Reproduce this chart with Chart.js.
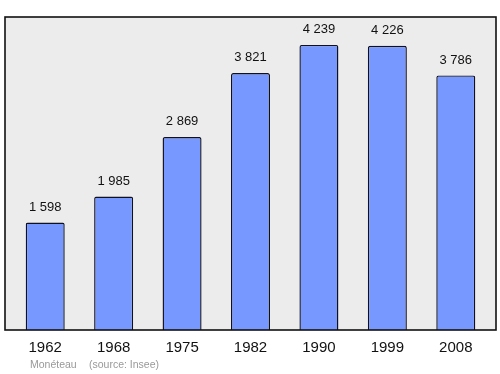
<!DOCTYPE html>
<html>
<head>
<meta charset="utf-8">
<script src="https://cdn.jsdelivr.net/npm/chart.js@4/dist/chart.umd.min.js"></script>
<style>
  html, body { margin: 0; padding: 0; background: #fff; }
  #wrap { width: 500px; height: 374px; }
</style>
</head>
<body>
<div id="wrap"><canvas id="chart"></canvas></div>
<script>
// données
const years = ['1962', '1968', '1975', '1982', '1990', '1999', '2008'];
const population = [1598, 1985, 2869, 3821, 4239, 4226, 3786];
const footerTexts = ['Monéteau', '(source: Insee)'];

// formate 1598 -> "1 598"
function fmt(v) {
    return String(v).replace(/\B(?=(\d{3})+(?!\d))/g, ' ');
}

// fond gris + cadre noir autour de la zone du graphique
const framePlugin = {
    id: 'frame',
    beforeDraw(chart) {
        const { ctx, chartArea: a } = chart;
        ctx.save();
        ctx.fillStyle = '#ececec';
        ctx.fillRect(5, a.top, 491, a.bottom - a.top);
        ctx.restore();
    },
    afterDatasetsDraw(chart) {
        const { ctx, chartArea: a } = chart;
        ctx.save();
        ctx.strokeStyle = '#111';
        ctx.lineWidth = 1.6;
        ctx.strokeRect(5, a.top, 491, a.bottom - a.top);
        ctx.restore();
    }
};

// valeurs au-dessus des barres + source
const labelsPlugin = {
    id: 'valueLabels',
    afterDraw(chart) {
        const { ctx } = chart;
        const meta = chart.getDatasetMeta(0);
        ctx.save();
        ctx.fillStyle = '#111';
        ctx.font = '13px "Liberation Sans", Arial, sans-serif';
        ctx.textAlign = 'center';
        ctx.textBaseline = 'bottom';
        meta.data.forEach((bar, i) => {
            ctx.fillText(fmt(population[i]), bar.x, bar.y - 9);
        });
        ctx.fillStyle = '#999';
        ctx.font = '10.5px "Liberation Sans", Arial, sans-serif';
        ctx.textAlign = 'left';
        ctx.textBaseline = 'middle';
        ctx.fillText(footerTexts[0], 30, 365);
        ctx.fillText(footerTexts[1], 89, 365);
        ctx.restore();
    }
};

new Chart(document.getElementById('chart').getContext('2d'), {
    type: 'bar',
    data: {
        labels: years,
        datasets: [{
            data: population,
            backgroundColor: '#7799ff',
            borderColor: '#101020',
            borderWidth: 1.4,
            borderRadius: { topLeft: 2, topRight: 2 },
            borderSkipped: 'bottom',
            barPercentage: 0.57,
            categoryPercentage: 1
        }]
    },
    options: {
        responsive: true,
        maintainAspectRatio: false,
        animation: false,
        layout: { padding: { top: 17, left: 11, right: 10, bottom: 0 } },
        plugins: {
            legend: { display: false },
            tooltip: { enabled: false }
        },
        scales: {
            x: {
                grid: { display: false, drawTicks: false },
                border: { display: false },
                ticks: {
                    color: '#111',
                    padding: 9,
                    font: { family: '"Liberation Sans", Arial, sans-serif', size: 15 }
                },
                afterFit: s => { s.height = 44; }
            },
            y: {
                display: false,
                min: 0,
                max: 4655
            }
        }
    },
    plugins: [framePlugin, labelsPlugin]
});
</script>
</body>
</html>
